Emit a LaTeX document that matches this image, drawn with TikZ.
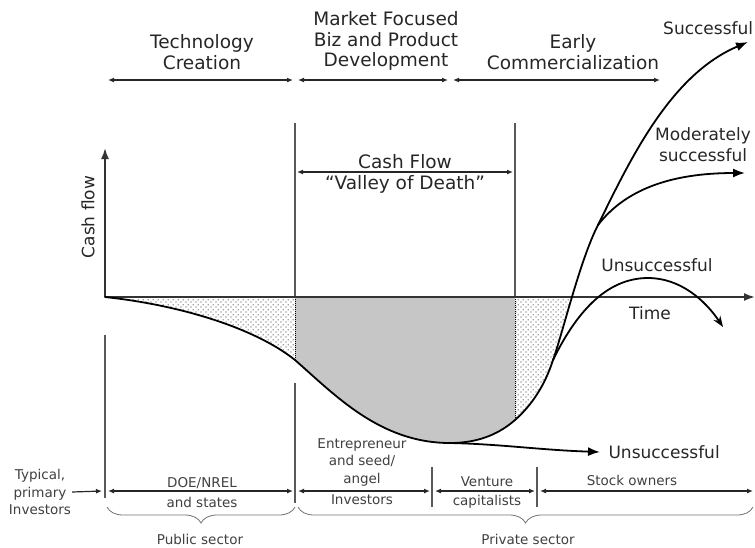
\documentclass[tikz,border=0pt]{standalone}
\usepackage{fontspec}
\setmainfont{DejaVu Sans}
\usetikzlibrary{arrows.meta, patterns, decorations.pathreplacing}

% Offset dot grid for the stippled areas
\pgfdeclarepatternformonly{stipple}{\pgfpointorigin}{\pgfqpoint{5pt}{5pt}}{\pgfqpoint{5pt}{5pt}}{
    \pgfpathcircle{\pgfqpoint{1.25pt}{1.25pt}}{0.75pt}
    \pgfpathcircle{\pgfqpoint{3.75pt}{3.75pt}}{0.75pt}
    \pgfusepath{fill}}

\begin{document}
\begin{tikzpicture}[x=1pt, y=-1pt, text=black!85]
        % Setup the styles
        \tikzset{phase/.style={font=\fontsize{18.5}{20.5}\selectfont, align=center},
                 curvelabel/.style={font=\fontsize{17}{21}\selectfont, align=center},
                 investor/.style={font=\fontsize{13.5}{17.5}\selectfont, align=center, text=black!75, inner sep=1pt},
                 span/.style={{Latex[length=6pt,width=5pt]}-{Latex[length=6pt,width=5pt]}, line width=1.2pt, black!85},
                 divider/.style={draw=black!65, line width=1.1pt},
                 flow/.style={line width=1.8pt, line cap=round},
                 sector/.style={decorate, decoration={brace, mirror, amplitude=16pt}, draw=black!55, line width=0.8pt}}
        \useasboundingbox (0,0) rectangle (755,547);

        % Points on the curve
        \coordinate (origin)  at (105,297);
        \coordinate (valleyL) at (295,360);
        \coordinate (bottom)  at (450,443);
        \coordinate (valleyR) at (515,420);
        \coordinate (split)   at (553,360);
        \coordinate (fork)    at (598,225);
        \coordinate (succ)    at (748,42);
        \coordinate (moder)   at (745,173);
        \coordinate (fall)    at (723,327);
        \coordinate (stall)   at (600,452);
        \coordinate (yend)    at (105,148);
        \coordinate (xend)    at (755,297);

        % Stops of the phase and investor arrows
        \foreach \n/\x in {t1/108, t2/293, t3/298, t4/448, t5/453, t6/660}
            \coordinate (\n) at (\x,80);
        \foreach \n/\x in {b1/102, b2/108, b3/293, b4/298, b5/430, b6/435, b7/535, b8/540, b9/753}
            \coordinate (\n) at (\x,491);
        \coordinate (c1) at (297,172);
        \coordinate (c2) at (513,172);

        % Shaded areas
        \fill[pattern=stipple, pattern color=black!75] (origin) .. controls (180,305) and (255,328) .. (valleyL) -- (295,297) -- cycle;
        \fill[gray!45] (295,297) -- (valleyL) .. controls (335,395) and (380,443) .. (bottom)
            .. controls (480,443) and (500,433) .. (valleyR) -- (515,297) -- cycle;
        \begin{scope}
            \clip (515,297) rectangle (600,450);
            \fill[pattern=stipple, pattern color=black!75] (515,297) -- (valleyR) .. controls (532,405) and (545,385) .. (split)
                .. controls (563,332) and (580,260) .. (fork) -- (600,297) -- cycle;
        \end{scope}
        \draw[densely dotted, line width=1pt] (295,297) -- (valleyL);
        \draw[densely dotted, line width=1pt] (515,297) -- (valleyR);

        % Phase borders
        \draw[divider] (295,123) -- (295,297);
        \draw[divider] (515,123) -- (515,297);
        \draw[divider] (295,383) -- (295,503);
        \draw[divider] (105,335) -- (105,498);
        \draw[divider] (432,467) -- (432,507);
        \draw[divider] (537,467) -- (537,507);

        % Axes
        \draw[line width=1.8pt, black!80, -{Latex[length=11pt,width=8pt]}] (origin) -- (yend);
        \draw[line width=1.8pt, black!80, -{Latex[length=11pt,width=8pt]}] (origin) -- (xend);
        \node[curvelabel, rotate=90] (cashaxis) at (88,217) {Cash flow};
        \node[curvelabel] (time) at (650,313) {Time};

        % The cash flow curve and its outcomes
        \draw[flow] (origin) .. controls (180,305) and (255,328) .. (valleyL)
            .. controls (335,395) and (380,443) .. (bottom)
            .. controls (480,443) and (500,433) .. (valleyR)
            .. controls (532,405) and (545,385) .. (split)
            .. controls (563,332) and (580,260) .. (fork);
        \draw[flow, -{Latex[length=12pt,width=9pt]}] (fork) .. controls (630,160) and (670,75) .. (succ);
        \draw[flow, -{Latex[length=12pt,width=9pt]}] (fork) .. controls (625,190) and (670,173) .. (moder);
        \draw[flow, -{Stealth[length=11pt,width=8pt]}] (split) .. controls (575,315) and (605,278) .. (648,278)
            .. controls (680,278) and (705,300) .. (fall);
        \draw[flow, -{Latex[length=12pt,width=9pt]}] (bottom) .. controls (500,444) and (540,450) .. (stall);

        \node[curvelabel, anchor=west, inner sep=0pt] (success) at (663,28) {Successful};
        \node[curvelabel] (moderate) at (703,145) {Moderately\\successful};
        \node[curvelabel] (unsuccUp) at (657,265) {Unsuccessful};
        \node[curvelabel, anchor=west] (unsuccLow) at (605,452) {Unsuccessful};

        % Phases
        \node[phase] (tech)   at (202,52) {Technology\\Creation};
        \node[phase] (market) at (386,41) {Market Focused\\Biz and Product\\Development};
        \node[phase] (early)  at (573,52) {Early\\Commercialization};
        \draw[span] (t1) -- (t2);
        \draw[span] (t3) -- (t4);
        \draw[span] (t5) -- (t6);

        % Valley of death
        \draw[span] (c1) -- (c2);
        \node[phase] (cashflow) at (405,162) {Cash Flow};
        \node[phase] (valley)   at (405,184) {“Valley of Death”};

        % Investors
        \node[investor] (typical) at (40,492) {Typical,\\primary\\Investors};
        \draw[line width=1.2pt, black!85, -{Latex[length=6pt,width=5pt]}] (typical.east) -- (b1);
        \draw[span] (b2) -- (b3);
        \draw[span] (b4) -- (b5);
        \draw[span] (b6) -- (b7);
        \draw[span] (b8) -- (b9);
        \node[investor] (doe)       at (202,483) {DOE/NREL};
        \node[investor] (states)    at (202,502) {and states};
        \node[investor] (entre)     at (362,462) {Entrepreneur\\and seed/\\angel};
        \node[investor] (investors) at (362,500) {Investors};
        \node[investor] (venture)   at (487,482) {Venture};
        \node[investor] (capital)   at (487,502) {capitalists};
        \node[investor] (stock)     at (632,480) {Stock owners};

        % Sectors
        \draw[sector] (107,507) -- (295,507);
        \draw[sector] (298,507) -- (753,507);
        \node[investor] (public)  at (200,539) {Public sector};
        \node[investor] (private) at (528,539) {Private sector};
\end{tikzpicture}
\end{document}
